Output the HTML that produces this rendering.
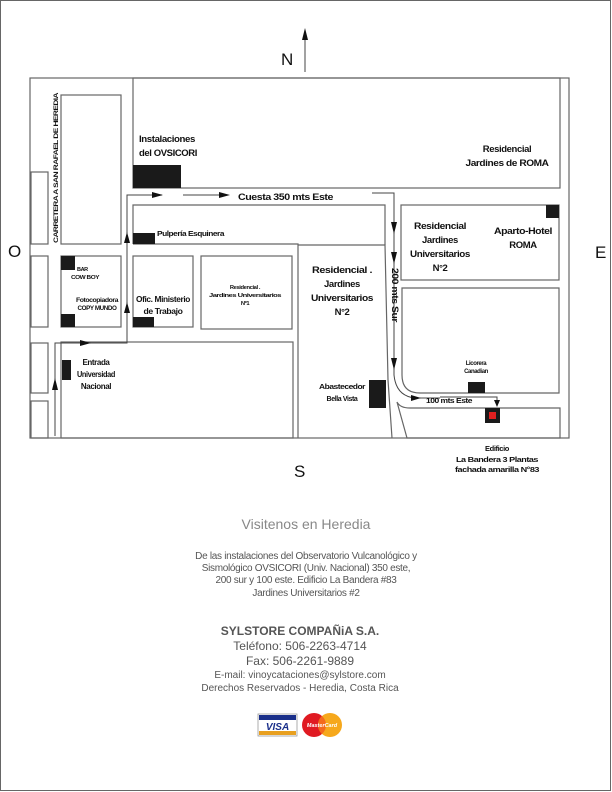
<!DOCTYPE html>
<html><head><meta charset="utf-8"><style>
html,body{margin:0;padding:0;background:#fff}
svg{display:block}
.b{font-family:"Liberation Sans",sans-serif;font-weight:bold;fill:#111;letter-spacing:-0.4px}
.g{font-family:"Liberation Sans",sans-serif;fill:#555}
</style></head><body>
<svg width="612" height="792" viewBox="0 0 612 792" xmlns="http://www.w3.org/2000/svg">
<rect x="0.5" y="0.5" width="610" height="790" fill="#fff" stroke="#666" stroke-width="1"/>
<g fill="none" stroke="#666" stroke-width="1.2">
<rect x="30" y="78" width="539" height="360"/>
<rect x="133" y="78" width="427" height="110"/>
<rect x="61" y="95" width="60" height="149"/>
<rect x="31" y="172" width="17" height="72"/>
<rect x="31" y="256" width="17" height="71"/>
<rect x="31" y="343" width="17" height="50"/>
<rect x="31" y="401" width="17" height="37"/>
<polyline points="133,244 133,205 385,205 385,245"/>
<polyline points="133,244 298,244 298,438"/>
<path d="M298,245 H385 L388,380 L392,438"/>
<rect x="61" y="256" width="60" height="71"/>
<rect x="133" y="256" width="60" height="71"/>
<rect x="201" y="256" width="91" height="73"/>
<rect x="61" y="342" width="232" height="96"/>
<rect x="401" y="205" width="158" height="75"/>
<path d="M402,288 H559 V393 H420 Q402,393 402,375 Z"/>
<path d="M397,402 Q400,408 410,408 H560 V438 H407 Z"/>
</g>
<g fill="#1a1a1a">
<rect x="133" y="165" width="48" height="23"/>
<rect x="133" y="233" width="22" height="11"/>
<rect x="61" y="256" width="14" height="14"/>
<rect x="61" y="314" width="14" height="13"/>
<rect x="133" y="317" width="21" height="10"/>
<rect x="62" y="360" width="9" height="20"/>
<rect x="546" y="205" width="13" height="13"/>
<rect x="468" y="382" width="17" height="11"/>
<rect x="369" y="380" width="17" height="28"/>
<rect x="485" y="408" width="15" height="15"/>
</g>
<rect x="489" y="412" width="7" height="7" fill="#e02020"/>
<g fill="none" stroke="#444" stroke-width="1">
<polyline points="55,436 55,343 127,343 127,195 162,195"/>
<line x1="183" y1="195" x2="224" y2="195"/>
<polyline points="372,193 394,193 394,375"/>
<path d="M394,375 Q396,396 415,398 H440"/>
<polyline points="440,397 497,397 497,403"/>
<line x1="305" y1="72" x2="305" y2="38"/>
</g>
<g fill="#111">
<polygon points="52,390 58,390 55,378"/>
<polygon points="80,340 80,346 91,343"/>
<polygon points="124,313 130,313 127,302"/>
<polygon points="124,243 130,243 127,232"/>
<polygon points="152,192 152,198 163,195"/>
<polygon points="219,192 219,198 230,195"/>
<polygon points="391,222 397,222 394,234"/>
<polygon points="391,252 397,252 394,264"/>
<polygon points="391,358 397,358 394,370"/>
<polygon points="411,395 411,401 421,398"/>
<polygon points="494,400 500,400 497,407"/>
<polygon points="302,40 308,40 305,28"/>
</g>
<g font-family="Liberation Sans,sans-serif" font-size="17" fill="#111">
<text x="281" y="65">N</text>
<text x="8" y="257">O</text>
<text x="595" y="258">E</text>
<text x="294" y="477">S</text>
</g>
<g class="b">
<text x="58" y="243" font-size="6" transform="rotate(-90 58 243)" textLength="150" lengthAdjust="spacingAndGlyphs">CARRETERA A SAN RAFAEL DE HEREDIA</text>
<text x="139" y="142" font-size="9.5" textLength="56" lengthAdjust="spacingAndGlyphs">Instalaciones</text>
<text x="139" y="156" font-size="9.5" textLength="58" lengthAdjust="spacingAndGlyphs">del OVSICORI</text>
<text x="507" y="152" font-size="9.5" text-anchor="middle">Residencial</text>
<text x="507" y="166" font-size="9.5" text-anchor="middle" textLength="83" lengthAdjust="spacingAndGlyphs">Jardines de ROMA</text>
<text x="238" y="200" font-size="9.5" textLength="95" lengthAdjust="spacingAndGlyphs">Cuesta 350 mts Este</text>
<text x="157" y="236" font-size="7" textLength="67" lengthAdjust="spacingAndGlyphs">Pulpería Esquinera</text>
<text x="77" y="271" font-size="5.5">BAR</text>
<text x="71" y="279" font-size="5.5" textLength="28" lengthAdjust="spacingAndGlyphs">COW BOY</text>
<text x="97" y="302" font-size="6" text-anchor="middle" textLength="42" lengthAdjust="spacingAndGlyphs">Fotocopiadora</text>
<text x="97" y="310" font-size="6" text-anchor="middle" textLength="39" lengthAdjust="spacingAndGlyphs">COPY MUNDO</text>
<text x="163" y="302" font-size="8.5" text-anchor="middle" textLength="54" lengthAdjust="spacingAndGlyphs">Ofic. Ministerio</text>
<text x="163" y="314" font-size="8.5" text-anchor="middle" textLength="39" lengthAdjust="spacingAndGlyphs">de Trabajo</text>
<text x="245" y="289" font-size="5.8" text-anchor="middle">Residencial .</text>
<text x="245" y="297" font-size="5.8" text-anchor="middle" textLength="72" lengthAdjust="spacingAndGlyphs">Jardines Universitarios</text>
<text x="245" y="305" font-size="5.8" text-anchor="middle">Nº1</text>
<text x="96" y="365" font-size="8" text-anchor="middle">Entrada</text>
<text x="96" y="377" font-size="8" text-anchor="middle" textLength="38" lengthAdjust="spacingAndGlyphs">Universidad</text>
<text x="96" y="389" font-size="8" text-anchor="middle">Nacional</text>
<text x="342" y="273" font-size="9.5" text-anchor="middle" textLength="60" lengthAdjust="spacingAndGlyphs">Residencial .</text>
<text x="342" y="287" font-size="9.5" text-anchor="middle">Jardines</text>
<text x="342" y="301" font-size="9.5" text-anchor="middle" textLength="62" lengthAdjust="spacingAndGlyphs">Universitarios</text>
<text x="342" y="315" font-size="9.5" text-anchor="middle">N°2</text>
<text x="440" y="229" font-size="9.5" text-anchor="middle" textLength="52" lengthAdjust="spacingAndGlyphs">Residencial</text>
<text x="440" y="243" font-size="9.5" text-anchor="middle">Jardines</text>
<text x="440" y="257" font-size="9.5" text-anchor="middle" textLength="60" lengthAdjust="spacingAndGlyphs">Universitarios</text>
<text x="440" y="271" font-size="9.5" text-anchor="middle">N°2</text>
<text x="523" y="234" font-size="9.5" text-anchor="middle" textLength="58" lengthAdjust="spacingAndGlyphs">Aparto-Hotel</text>
<text x="523" y="248" font-size="9.5" text-anchor="middle">ROMA</text>
<text x="392" y="268" font-size="9" transform="rotate(90 392 268)" textLength="54" lengthAdjust="spacingAndGlyphs">200 mts Sur</text>
<text x="476" y="365" font-size="6" text-anchor="middle">Licorera</text>
<text x="476" y="373" font-size="6" text-anchor="middle">Canadian</text>
<text x="342" y="389" font-size="7" text-anchor="middle" textLength="46" lengthAdjust="spacingAndGlyphs">Abastecedor</text>
<text x="342" y="401" font-size="7" text-anchor="middle">Bella Vista</text>
<text x="426" y="403" font-size="7" textLength="46" lengthAdjust="spacingAndGlyphs">100 mts Este</text>
<text x="497" y="451" font-size="7.5" text-anchor="middle">Edificio</text>
<text x="497" y="462" font-size="7.5" text-anchor="middle" textLength="82" lengthAdjust="spacingAndGlyphs">La Bandera 3 Plantas</text>
<text x="497" y="472" font-size="7.5" text-anchor="middle" textLength="84" lengthAdjust="spacingAndGlyphs">fachada amarilla N°83</text>
</g>
<g class="g" text-anchor="middle">
<text x="306" y="529" font-size="14" fill="#888">Visitenos en Heredia</text>
<text x="306" y="559" font-size="10" letter-spacing="-0.3">De las instalaciones del Observatorio Vulcanológico y</text>
<text x="306" y="571" font-size="10" letter-spacing="-0.3">Sismológico OVSICORI (Univ. Nacional) 350 este,</text>
<text x="306" y="583" font-size="10" letter-spacing="-0.3">200 sur y 100 este. Edificio La Bandera #83</text>
<text x="306" y="596" font-size="10" letter-spacing="-0.3">Jardines Universitarios #2</text>
<text x="300" y="635" font-size="12" font-weight="bold">SYLSTORE COMPAÑiA S.A.</text>
<text x="300" y="650" font-size="12">Teléfono: 506-2263-4714</text>
<text x="300" y="665" font-size="12">Fax: 506-2261-9889</text>
<text x="300" y="678" font-size="10">E-mail: vinoycataciones@sylstore.com</text>
<text x="300" y="691" font-size="10">Derechos Reservados - Heredia, Costa Rica</text>
</g>
<rect x="258" y="714" width="39" height="22" fill="#fff" stroke="#999" stroke-width="0.8"/>
<rect x="259" y="715" width="37" height="5" fill="#1a2f8a"/>
<rect x="259" y="731" width="37" height="4" fill="#e8a020"/>
<text x="277.5" y="730" font-family="Liberation Sans,sans-serif" font-size="10" font-weight="bold" font-style="italic" fill="#1a2f8a" text-anchor="middle">VISA</text>
<circle cx="314" cy="725" r="12" fill="#e01a22"/>
<circle cx="330" cy="725" r="12" fill="#f6a81c"/>
<path d="M322,716 A12,12 0 0 1 322,734 A12,12 0 0 1 322,716 Z" fill="#f46a1d"/>
<text x="322" y="727" font-family="Liberation Sans,sans-serif" font-size="5.5" font-style="italic" font-weight="bold" fill="#fff" text-anchor="middle">MasterCard</text>
</svg>
</body></html>
